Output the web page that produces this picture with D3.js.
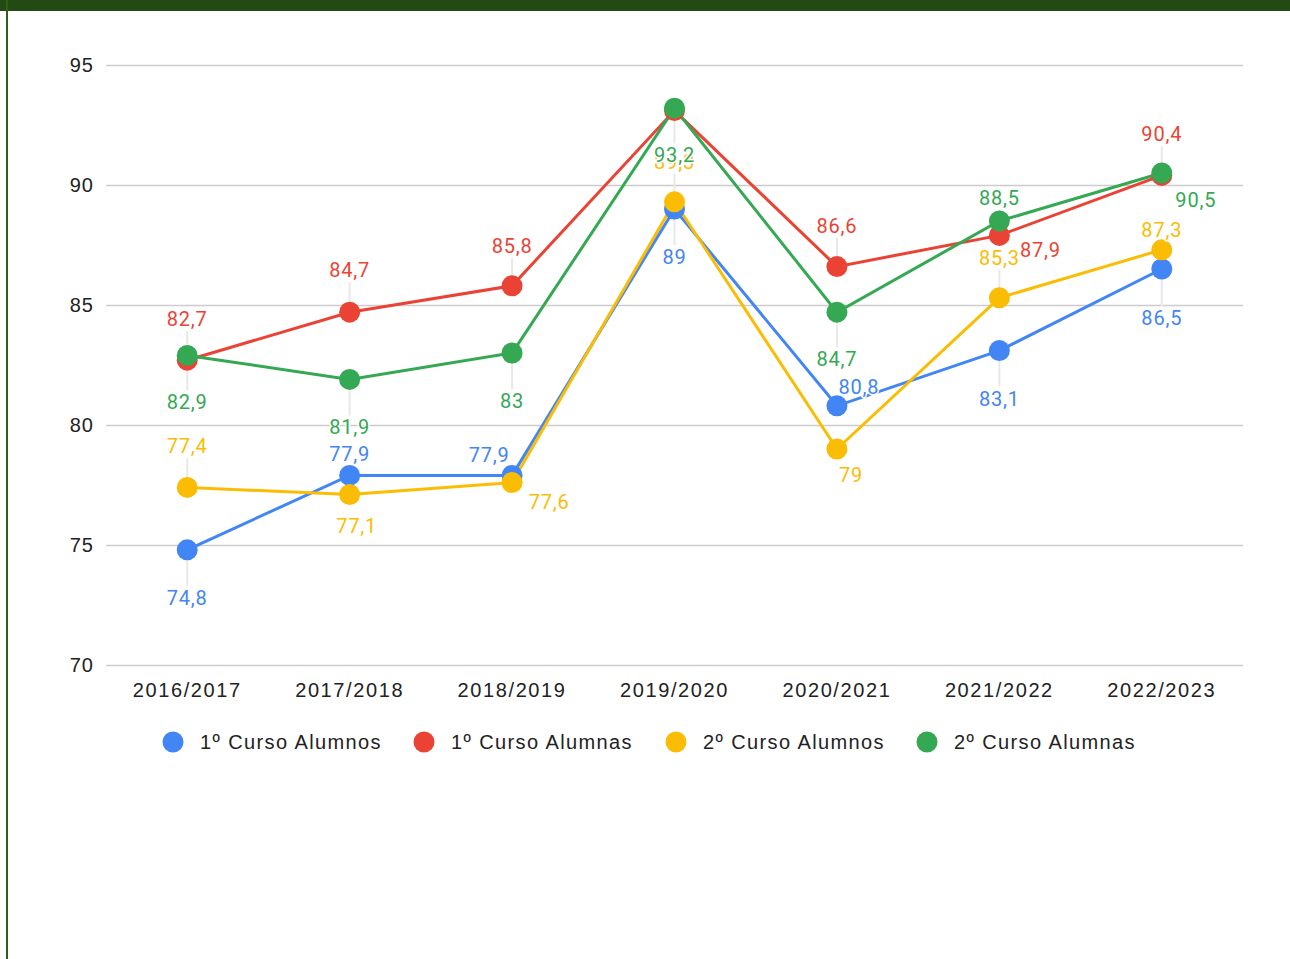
<!DOCTYPE html>
<html>
<head>
<meta charset="utf-8">
<script src="https://cdn.jsdelivr.net/npm/d3@7"></script>
<style>
  body { margin: 0; background: #fff; }
  svg { display: block; }
</style>
</head>
<body>
<script>
// Data
var cursos = ["2016/2017", "2017/2018", "2018/2019", "2019/2020", "2020/2021", "2021/2022", "2022/2023"];
var alumnos1 = [74.8, 77.9, 77.9, 89, 80.8, 83.1, 86.5];
var alumnas1 = [82.7, 84.7, 85.8, 93.1, 86.6, 87.9, 90.4];
var alumnos2 = [77.4, 77.1, 77.6, 89.3, 79, 85.3, 87.3];
var alumnas2 = [82.9, 81.9, 83, 93.2, 84.7, 88.5, 90.5];
var yTicks = [70, 75, 80, 85, 90, 95];

var series = [
    {name: "1º Curso Alumnos", values: alumnos1, color: "#4285F4"},
    {name: "1º Curso Alumnas", values: alumnas1, color: "#EA4335"},
    {name: "2º Curso Alumnos", values: alumnos2, color: "#FBBC04"},
    {name: "2º Curso Alumnas", values: alumnas2, color: "#34A853"}
];

// annotation placement (label offset from its point, px); null = hidden
var labelPos = [
    [[0, 48], [0, -21], [-23, -20], [0, 48], [22, -19], [0, 48], [0, 49]],
    [[0, -41], [0, -42], [0, -40], null, [0, -41], [41, 15], [0, -41]],
    [[0, -41], [7, 31], [37, 19], [0, -40], [14, 26], [0, -40], [0, -20]],
    [[0, 47], [0, 48], [0, 48], [0, 47], [0, 47], [0, -23], [34, 27]]
];

var width = 1290;
var height = 959;
var margin = {top: 65, right: 47, bottom: 294, left: 106};
var innerWidth = width - margin.left - margin.right;
var innerHeight = height - margin.top - margin.bottom;

var axisFont = "'Liberation Sans', Arial, sans-serif";

var svg = d3.select("body")
.append("svg")
    .attr("width", width)
    .attr("height", height);

// frame
svg.append("rect")
    .attr("x", 0).attr("y", 0)
    .attr("width", width).attr("height", 11)
    .attr("fill", "#224A12");
svg.append("rect")
    .attr("x", 6).attr("y", 0)
    .attr("width", 2).attr("height", height)
    .attr("fill", "#2F5E1C");

const g = svg.append("g")
    .attr("transform", "translate(" + margin.left + ", " + margin.top + ")");

//Scales
var x = d3.scaleBand()
    .domain(cursos)
    .range([0, innerWidth]);

var y = d3.scaleLinear()
    .domain([70, 95])
    .range([innerHeight, 0]);

var px = d => x(d) + x.bandwidth() / 2;

//Axes
var yAxisGroup = g.append("g")
    .attr("class", "y-axis")
    .call(d3.axisLeft(y).tickValues(yTicks).tickSize(-innerWidth).tickPadding(12));

yAxisGroup.select(".domain").remove();
yAxisGroup.selectAll(".tick line")
    .attr("stroke", "#cccccc")
    .attr("stroke-width", 1.5);
yAxisGroup.selectAll(".tick text")
    .attr("fill", "#222")
    .style("font-family", axisFont)
    .style("font-size", "20px")
    .style("letter-spacing", "1px");

var xAxisGroup = g.append("g")
    .attr("class", "x-axis")
    .attr("transform", "translate(0, " + innerHeight + ")")
    .call(d3.axisBottom(x).tickSize(0).tickPadding(18));

xAxisGroup.select(".domain").remove();
xAxisGroup.selectAll(".tick text")
    .attr("fill", "#222")
    .style("font-family", axisFont)
    .style("font-size", "20px")
    .style("letter-spacing", "1.6px");

// annotation records
var labels = [];
series.forEach((s, si) => {
    s.values.forEach((v, i) => {
        var p = labelPos[si][i];
        if (!p) return;
        labels.push({value: v, cat: cursos[i], dx: p[0], dy: p[1], color: s.color});
    });
});

// leader stems
g.append("g").selectAll("line")
    .data(labels.filter(d => d.dx === 0))
    .enter()
    .append("line")
        .attr("x1", d => px(d.cat))
        .attr("x2", d => px(d.cat))
        .attr("y1", d => y(d.value) + (d.dy > 0 ? 8 : -8))
        .attr("y2", d => y(d.value) + d.dy + (d.dy > 0 ? -12 : 12))
        .attr("stroke", "#e8e8e8")
        .attr("stroke-width", 2);

// lines
var line = d3.line()
    .x((d, i) => px(cursos[i]))
    .y(d => y(d));

series.forEach(s => {
    g.append("path")
        .datum(s.values)
        .attr("fill", "none")
        .attr("stroke", s.color)
        .attr("stroke-width", 3)
        .attr("d", line);
});

// points
series.forEach(s => {
    g.append("g").selectAll("circle")
        .data(s.values)
        .enter()
        .append("circle")
            .attr("cx", (d, i) => px(cursos[i]))
            .attr("cy", d => y(d))
            .attr("r", 10.5)
            .attr("fill", s.color);
});

// annotations
var fmt = d => String(d).replace(".", ",");
g.append("g").selectAll("text")
    .data(labels)
    .enter()
    .append("text")
        .attr("x", d => px(d.cat) + d.dx)
        .attr("y", d => y(d.value) + d.dy)
        .attr("dy", "0.35em")
        .attr("text-anchor", "middle")
        .attr("fill", d => d.color)
        .attr("stroke", "#fff")
        .attr("stroke-width", 3)
        .attr("paint-order", "stroke")
        .style("font-family", "Roboto, sans-serif")
        .style("font-size", "20px")
        .style("letter-spacing", "0.8px")
        .text(d => fmt(d.value));

//Legend
var legendX = [173, 424, 676, 927];
var legend = svg.append("g")
    .attr("transform", "translate(0, 742)");

series.forEach((s, i) => {
    legend.append("circle")
        .attr("cx", legendX[i])
        .attr("cy", 0)
        .attr("r", 10.5)
        .attr("fill", s.color);
    legend.append("text")
        .attr("x", legendX[i] + 27)
        .attr("y", 0)
        .attr("dy", "0.35em")
        .attr("fill", "#222")
        .style("font-family", axisFont)
        .style("font-size", "20px")
        .style("letter-spacing", "1.4px")
        .text(s.name);
});
</script>
</body>
</html>
